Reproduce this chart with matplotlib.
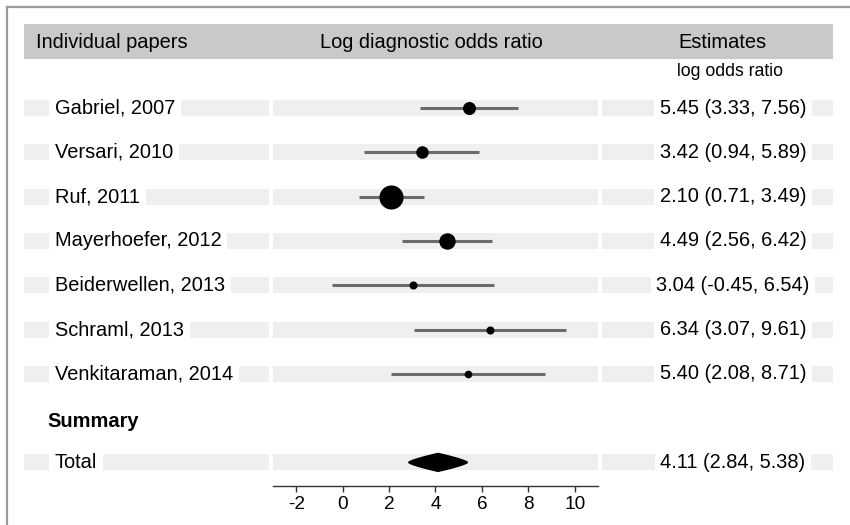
import numpy as np
import matplotlib.pyplot as plt
from matplotlib.patches import Polygon

plt.rcParams['font.family'] = ['Liberation Sans', 'DejaVu Sans']

# --- données ---
papers = ['Gabriel, 2007', 'Versari, 2010', 'Ruf, 2011', 'Mayerhoefer, 2012',
          'Beiderwellen, 2013', 'Schraml, 2013', 'Venkitaraman, 2014']
log_or = [5.45, 3.42, 2.10, 4.49, 3.04, 6.34, 5.40]
ci_low = [3.33, 0.94, 0.71, 2.56, -0.45, 3.07, 2.08]
ci_high = [7.56, 5.89, 3.49, 6.42, 6.54, 9.61, 8.71]
weights = [12, 11, 46, 20, 4, 4, 3.5]   # poids relatifs (taille des points)

total_est, total_low, total_high = 4.11, 2.84, 5.38
x_ticks = [-2, 0, 2, 4, 6, 8, 10]

# --- mise en page (pixels) ---
W, H = 850, 525
row_y0, row_step = 108, 44.3
band_col = '#efefef'
head_col = '#c9c9c9'
fs = 14.4

fig = plt.figure(figsize=(W / 100, H / 100), dpi=100)
bg = fig.add_axes([0, 0, 1, 1])
bg.set_xlim(0, W)
bg.set_ylim(H, 0)
bg.axis('off')

# cadre gris
bg.plot([7, 7], [7, H], color='#9a9a9a', lw=1.6)
bg.plot([7, W], [7, 7], color='#9a9a9a', lw=1.6)

# en-tête
bg.fill_between([24, 833], 24, 59, color=head_col, lw=0)
bg.text(36, 42, 'Individual papers', fontsize=fs, va='center', ha='left')
bg.text(431, 42, 'Log diagnostic odds ratio', fontsize=fs, va='center', ha='center')
bg.text(722, 42, 'Estimates', fontsize=fs, va='center', ha='center')
bg.text(730, 72, 'log odds ratio', fontsize=12.7, va='center', ha='center')

white_box = dict(facecolor='white', edgecolor='none', pad=4)


def table_row(i, label, est_txt):
    y = row_y0 + row_step * i
    bg.fill_between([24, 269], y - 8, y + 8, color=band_col, lw=0)
    bg.fill_between([602, 833], y - 8, y + 8, color=band_col, lw=0)
    bg.text(55, y, label, fontsize=fs, va='center', ha='left', bbox=white_box)
    bg.text(733, y, est_txt, fontsize=fs, va='center', ha='center', bbox=white_box)


for i, name in enumerate(papers):
    table_row(i, name, f'{log_or[i]:.2f} ({ci_low[i]:.2f}, {ci_high[i]:.2f})')

n = len(papers)
bg.text(47, row_y0 + row_step * n + 3, 'Summary', fontsize=fs, fontweight='bold',
        va='center', ha='left')
table_row(n + 1, 'Total', f'{total_est:.2f} ({total_low:.2f}, {total_high:.2f})')

# --- graphique central ---
ax_bottom, ax_top = 486, 80
ax = fig.add_axes([273 / W, (H - ax_bottom) / H, (598 - 273) / W, (ax_bottom - ax_top) / H])
ax.set_xlim(-3, 11)
ax.set_ylim((ax_bottom - row_y0) / row_step, (ax_top - row_y0) / row_step)
ax.patch.set_alpha(0)

rows = np.arange(n)
band_h = 8 / row_step
for r in list(rows) + [n + 1]:
    ax.axhspan(r - band_h, r + band_h, color=band_col, lw=0, zorder=0)

ax.hlines(rows, ci_low, ci_high, color='#6b6b6b', lw=2.2, zorder=2)
for r, est, w in zip(rows, log_or, weights):
    d_px = 3.35 * np.sqrt(w)
    ax.plot(est, r, 'o', color='black', markersize=d_px * 0.72, zorder=3)

# losange du résumé (pointes arrondies)
yt = n + 1
dh = 9 / row_step
t = np.linspace(-1, 1, 61)
xs = np.where(t < 0, total_est + t * (total_est - total_low),
              total_est + t * (total_high - total_est))
half = dh * (1 - np.abs(t)) ** 0.75
poly = np.concatenate([np.column_stack([xs, yt - half]),
                       np.column_stack([xs[::-1], yt + half[::-1]])])
ax.add_patch(Polygon(poly, closed=True, color='black', zorder=3))

for s in ['top', 'right', 'left']:
    ax.spines[s].set_visible(False)
ax.spines['bottom'].set_color('#333333')
ax.spines['bottom'].set_linewidth(1.0)
ax.set_yticks([])
ax.set_xticks(x_ticks)
ax.set_xticklabels([str(t) for t in x_ticks])
ax.tick_params(axis='x', direction='out', length=4, width=1, color='#333333',
               labelsize=13.7, pad=3)

fig.savefig('out.png', dpi=100)
